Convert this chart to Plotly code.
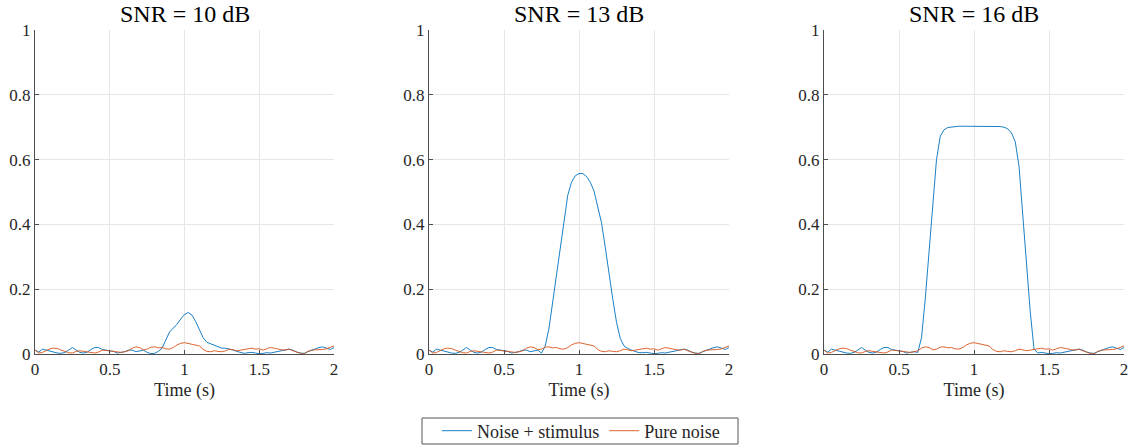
import plotly.graph_objects as go

# ---------------- data ----------------
time_s = [round(i * 0.025, 3) for i in range(81)]

pure_noise = [
    0.012, 0.003, 0.005, 0.010, 0.016, 0.018, 0.017, 0.012, 0.008, 0.004,
    0.003, 0.008, 0.010, 0.008, 0.006, 0.003, 0.003, 0.006, 0.012, 0.011,
    0.010, 0.008, 0.006, 0.005, 0.007, 0.010, 0.018, 0.022, 0.020, 0.013,
    0.015, 0.021, 0.022, 0.019, 0.020, 0.016, 0.015, 0.020, 0.028, 0.033,
    0.035, 0.033, 0.031, 0.029, 0.025, 0.014, 0.008, 0.007, 0.010, 0.008,
    0.007, 0.010, 0.015, 0.013, 0.010, 0.012, 0.013, 0.016, 0.018, 0.015,
    0.016, 0.012, 0.016, 0.020, 0.018, 0.015, 0.013, 0.012, 0.015, 0.010,
    0.005, 0.002, 0.000, 0.008, 0.012, 0.012, 0.012, 0.014, 0.016, 0.021,
    0.025,
]

stim_10db = [
    0.012, 0.006, 0.015, 0.012, 0.008, 0.004, 0.003, 0.002, 0.005, 0.012,
    0.020, 0.012, 0.005, 0.003, 0.006, 0.014, 0.020, 0.020, 0.014, 0.012,
    0.010, 0.008, 0.003, 0.004, 0.007, 0.012, 0.012, 0.007, 0.010, 0.012,
    0.005, 0.001, 0.002, 0.008, 0.018, 0.045, 0.068, 0.080, 0.092, 0.108,
    0.122, 0.128, 0.120, 0.100, 0.074, 0.050, 0.036, 0.032, 0.027, 0.022,
    0.018, 0.018, 0.016, 0.012, 0.008, 0.004, 0.002, 0.004, 0.005, 0.003,
    0.001, 0.002, 0.004, 0.003, 0.005, 0.007, 0.009, 0.012, 0.015, 0.012,
    0.006, 0.003, 0.002, 0.007, 0.012, 0.015, 0.020, 0.022, 0.018, 0.014,
    0.020,
]

stim_13db = [
    0.012, 0.006, 0.015, 0.012, 0.008, 0.004, 0.003, 0.002, 0.005, 0.012,
    0.020, 0.012, 0.005, 0.003, 0.006, 0.014, 0.020, 0.020, 0.014, 0.012,
    0.010, 0.008, 0.003, 0.004, 0.007, 0.012, 0.012, 0.007, 0.010, 0.012,
    0.003, 0.025, 0.080, 0.165, 0.250, 0.335, 0.420, 0.490, 0.530, 0.550,
    0.557, 0.557, 0.548, 0.530, 0.503, 0.458, 0.405, 0.330, 0.245, 0.170,
    0.098, 0.048, 0.025, 0.017, 0.012, 0.008, 0.004, 0.004, 0.005, 0.003,
    0.001, 0.002, 0.004, 0.003, 0.005, 0.007, 0.009, 0.012, 0.015, 0.012,
    0.006, 0.003, 0.002, 0.007, 0.012, 0.015, 0.020, 0.022, 0.018, 0.014,
    0.020,
]

stim_16db = [
    0.012, 0.006, 0.015, 0.012, 0.008, 0.004, 0.003, 0.002, 0.005, 0.012,
    0.020, 0.012, 0.005, 0.003, 0.006, 0.014, 0.020, 0.020, 0.014, 0.012,
    0.010, 0.008, 0.003, 0.004, 0.007, 0.005, 0.050, 0.170, 0.320, 0.470,
    0.600, 0.672, 0.692, 0.699, 0.701, 0.702, 0.703, 0.703, 0.703, 0.703,
    0.703, 0.703, 0.703, 0.703, 0.703, 0.703, 0.702, 0.702, 0.700, 0.695,
    0.682, 0.655, 0.580, 0.430, 0.280, 0.130, 0.015, 0.003, 0.005, 0.003,
    0.001, 0.002, 0.004, 0.003, 0.005, 0.007, 0.009, 0.012, 0.015, 0.012,
    0.006, 0.003, 0.002, 0.007, 0.012, 0.015, 0.020, 0.022, 0.018, 0.014,
    0.020,
]

panel_titles = ["SNR = 10 dB", "SNR = 13 dB", "SNR = 16 dB"]
series_names = ["Noise + stimulus", "Pure noise"]
x_ticks = [0, 0.5, 1, 1.5, 2]
x_tick_labels = ["0", "0.5", "1", "1.5", "2"]
y_ticks = [0, 0.2, 0.4, 0.6, 0.8, 1]
y_tick_labels = ["0", "0.2", "0.4", "0.6", "0.8", "1"]
x_label = "Time (s)"

# ---------------- styling ----------------
W, H = 1129, 446
FONT = "Liberation Serif"
BLUE = "#0072BD"
ORANGE = "#D95319"
AXC = "#4d4d4d"
GRID = "#e6e6e6"
TXT = "#262626"

x_domains = [[35 / W, 334 / W], [429 / W, 729 / W], [824 / W, 1124 / W]]
y_domain = [1 - 354 / H, 1 - 30 / H]

fig = go.Figure()
stims = [stim_10db, stim_13db, stim_16db]
for i, stim in enumerate(stims):
    sfx = "" if i == 0 else str(i + 1)
    fig.add_trace(go.Scatter(
        x=time_s, y=stim, mode="lines", name=series_names[0],
        line=dict(color=BLUE, width=0.9), legendgroup="a", showlegend=(i == 0),
        xaxis="x" + sfx, yaxis="y" + sfx))
    fig.add_trace(go.Scatter(
        x=time_s, y=pure_noise, mode="lines", name=series_names[1],
        line=dict(color=ORANGE, width=0.9), legendgroup="b", showlegend=(i == 0),
        xaxis="x" + sfx, yaxis="y" + sfx))

layout = dict(
    template="none",
    width=W, height=H, margin=dict(l=0, r=0, t=0, b=0, autoexpand=False),
    paper_bgcolor="white", plot_bgcolor="white",
    font=dict(family=FONT, size=17, color=TXT),
    showlegend=True,
    legend=dict(orientation="h", x=581 / W, xanchor="center", y=1 - 431 / H, yanchor="middle",
                borderwidth=0, bgcolor="rgba(0,0,0,0)",
                font=dict(family=FONT, size=18, color=TXT),
                itemwidth=30, tracegroupgap=0),
    shapes=[dict(type="rect", xref="paper", yref="paper",
                 x0=422 / W, x1=738 / W, y0=1 - 444 / H, y1=1 - 418 / H,
                 line=dict(color="#555555", width=1), fillcolor="rgba(0,0,0,0)",
                 layer="below")],
)
annotations = []
for i in range(3):
    sfx = "" if i == 0 else str(i + 1)
    layout["xaxis" + sfx] = dict(
        domain=x_domains[i], range=[0, 2], anchor="y" + sfx, automargin=False,
        tickmode="array", tickvals=x_ticks, ticktext=x_tick_labels,
        ticks="inside", ticklen=4, tickcolor=AXC, tickwidth=1,
        showline=True, linecolor=AXC, linewidth=1, mirror=False,
        showgrid=True, gridcolor=GRID, gridwidth=1, zeroline=False,
        tickfont=dict(family=FONT, size=17, color=TXT),
        title=dict(text=x_label, font=dict(family=FONT, size=18, color=TXT), standoff=4),
    )
    layout["yaxis" + sfx] = dict(
        domain=y_domain, range=[0, 1], anchor="x" + sfx, automargin=False,
        tickmode="array", tickvals=y_ticks, ticktext=y_tick_labels,
        ticks="inside", ticklen=4, tickcolor=AXC, tickwidth=1,
        showline=True, linecolor=AXC, linewidth=1, mirror=False,
        showgrid=True, gridcolor=GRID, gridwidth=1, zeroline=False,
        tickfont=dict(family=FONT, size=17, color=TXT),
    )
    annotations.append(dict(
        text=panel_titles[i], xref="paper", yref="paper",
        x=(x_domains[i][0] + x_domains[i][1]) / 2, y=1 - 14 / H,
        xanchor="center", yanchor="middle", showarrow=False,
        font=dict(family=FONT, size=24, color="#000000")))
layout["annotations"] = annotations
fig.update_layout(**layout)

fig.write_html("out.html")
